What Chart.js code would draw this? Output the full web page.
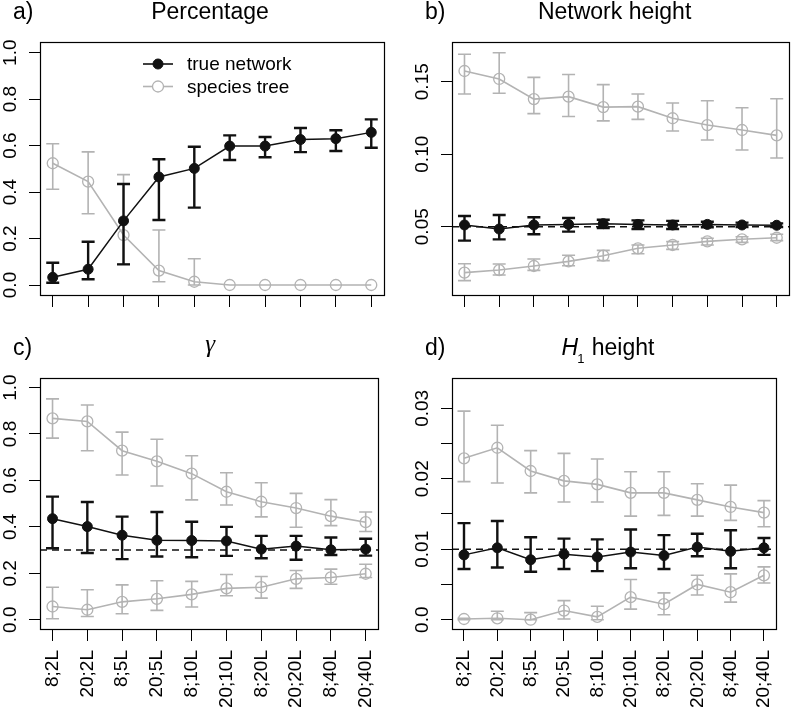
<!DOCTYPE html>
<html><head><meta charset="utf-8">
<script src="https://cdn.jsdelivr.net/npm/chart.js@4.4.1/dist/chart.umd.min.js"></script>
<style>
html,body{margin:0;padding:0;background:#fff;}
#wrap{position:relative;width:796px;height:710px;overflow:hidden;background:#fff;}
canvas{position:absolute;}
</style></head><body>
<div id="wrap">
<canvas id="cA" width="398" height="336" style="left:0;top:0;width:398px;height:336px"></canvas>
<canvas id="cB" width="398" height="336" style="left:398px;top:0;width:398px;height:336px"></canvas>
<canvas id="cC" width="398" height="374" style="left:0;top:336px;width:398px;height:374px"></canvas>
<canvas id="cD" width="398" height="374" style="left:398px;top:336px;width:398px;height:374px"></canvas>
</div>
<script>
// ---------- data ----------
const categories = ['8;2L','20;2L','8;5L','20;5L','8;10L','20;10L','8;20L','20;20L','8;40L','20;40L'];
const seriesNames = ['true network', 'species tree'];

// a) Percentage
const pctNet     = [0.033,0.068,0.276,0.465,0.502,0.598,0.598,0.626,0.630,0.657];
const pctNetLo   = [0.010,0.025,0.089,0.280,0.333,0.538,0.550,0.572,0.577,0.591];
const pctNetHi   = [0.096,0.186,0.435,0.541,0.595,0.644,0.637,0.676,0.666,0.713];
const pctTree    = [0.524,0.445,0.215,0.062,0.014,0,0,0,0,0];
const pctTreeLo  = [0.412,0.307,0.090,0.014,0.000,0,0,0,0,0];
const pctTreeHi  = [0.608,0.573,0.475,0.237,0.113,0,0,0,0,0];
const pctTicks   = [0,0.2,0.4,0.6,0.8,1.0];
const pctLabels  = ['0.0','0.2','0.4','0.6','0.8','1.0'];

// b) Network height
const nhTreeUp   = [0.1574,0.1519,0.1380,0.1397,0.1325,0.1328,0.1248,0.1201,0.1167,0.1130];
const nhTreeUpLo = [0.1415,0.1420,0.1280,0.1260,0.1230,0.1240,0.1160,0.1098,0.1029,0.0974];
const nhTreeUpHi = [0.1690,0.1700,0.1530,0.1550,0.1480,0.1415,0.1353,0.1369,0.1320,0.1383];
const nhNet      = [0.0512,0.0484,0.0512,0.0516,0.0521,0.0516,0.0512,0.0516,0.0512,0.0510];
const nhNetLo    = [0.0404,0.0413,0.0448,0.0466,0.0491,0.0484,0.0484,0.0496,0.0498,0.0498];
const nhNetHi    = [0.0574,0.0581,0.0565,0.0560,0.0548,0.0544,0.0540,0.0534,0.0528,0.0523];
const nhTreeDn   = [0.0183,0.0201,0.0229,0.0261,0.0300,0.0351,0.0374,0.0399,0.0413,0.0424];
const nhTreeDnLo = [0.0128,0.0167,0.0199,0.0231,0.0266,0.0314,0.0344,0.0374,0.0392,0.0404];
const nhTreeDnHi = [0.0245,0.0243,0.0277,0.0303,0.0337,0.0374,0.0397,0.0420,0.0431,0.0448];
const nhTicks    = [0.05,0.10,0.15];
const nhLabels   = ['0.05','0.10','0.15'];
const nhRef      = 0.05;

// c) gamma
const gTreeUp    = [0.867,0.854,0.728,0.682,0.629,0.551,0.508,0.481,0.446,0.420];
const gTreeUpLo  = [0.782,0.728,0.623,0.576,0.516,0.494,0.443,0.398,0.405,0.380];
const gTreeUpHi  = [0.951,0.925,0.808,0.777,0.706,0.633,0.590,0.544,0.517,0.464];
const gNet       = [0.435,0.401,0.364,0.342,0.341,0.339,0.304,0.317,0.301,0.304];
const gNetLo     = [0.308,0.287,0.261,0.272,0.269,0.275,0.265,0.258,0.279,0.276];
const gNetHi     = [0.530,0.507,0.444,0.464,0.422,0.400,0.361,0.361,0.354,0.349];
const gTreeDn    = [0.057,0.043,0.077,0.090,0.109,0.135,0.140,0.176,0.182,0.198];
const gTreeDnLo  = [0.004,0.014,0.026,0.040,0.055,0.103,0.093,0.135,0.153,0.182];
const gTreeDnHi  = [0.140,0.129,0.150,0.168,0.165,0.195,0.186,0.212,0.218,0.239];
const gTicks     = [0,0.2,0.4,0.6,0.8,1.0];
const gLabels    = ['0.0','0.2','0.4','0.6','0.8','1.0'];
const gRef       = 0.3;

// d) H1 height
const h1TreeUp   = [0.0229,0.0244,0.0211,0.0197,0.0192,0.0180,0.0180,0.0170,0.0160,0.0152];
const h1TreeUpLo = [0.0196,0.0194,0.0180,0.0167,0.0167,0.0147,0.0148,0.0147,0.0141,0.0132];
const h1TreeUpHi = [0.0296,0.0276,0.0240,0.0236,0.0228,0.0210,0.0210,0.0193,0.0191,0.0169];
const h1Net      = [0.0092,0.0102,0.0085,0.0093,0.0089,0.0096,0.0091,0.0103,0.0097,0.0102];
const h1NetLo    = [0.0072,0.0074,0.0068,0.0072,0.0069,0.0073,0.0072,0.0090,0.0073,0.0092];
const h1NetHi    = [0.0137,0.0140,0.0117,0.0115,0.0114,0.0128,0.0120,0.0122,0.0127,0.0116];
const h1TreeDn   = [0.0001,0.0002,0.0000,0.0013,0.0004,0.0032,0.0022,0.0050,0.0039,0.0063];
const h1TreeDnLo = [0.0000,0.0000,0.0000,0.0001,0.0000,0.0015,0.0007,0.0035,0.0025,0.0052];
const h1TreeDnHi = [0.0002,0.0012,0.0010,0.0027,0.0019,0.0057,0.0038,0.0063,0.0065,0.0075];
const h1Ticks    = [0,0.005,0.01,0.015,0.02,0.025,0.03];
const h1Labels   = ['0.0','','0.01','','0.02','','0.03'];
const h1Ref      = 0.01;

// ---------- styling ----------
const SANS = '"Liberation Sans", Arial, Helvetica, sans-serif';
const BLACK = '#111111';
const GRAY = '#b3b3b3';
Chart.defaults.font.family = SANS;
Chart.defaults.color = '#000';

function pts(arr){ return arr.map((v,i)=>({x:i+1, y:v})); }
function netDs(vals, lo, hi){
  return {label: seriesNames[0], data: pts(vals), errLo: lo, errHi: hi, errWidth: 2.4,
    borderColor: BLACK, backgroundColor: BLACK, borderWidth: 1.5,
    pointRadius: 5, pointBackgroundColor: BLACK, pointBorderColor: BLACK, pointBorderWidth: 1,
    tension: 0, fill: false};
}
function treeDs(vals, lo, hi){
  return {label: seriesNames[1], data: pts(vals), errLo: lo, errHi: hi, errWidth: 1.6,
    borderColor: GRAY, backgroundColor: 'rgba(0,0,0,0)', borderWidth: 1.6,
    pointRadius: 5.5, pointBackgroundColor: 'rgba(0,0,0,0)', pointBorderColor: GRAY, pointBorderWidth: 1.3,
    tension: 0, fill: false};
}

const SPECS = {};

const panelPlugin = {
  id: 'panel',
  beforeDatasetsDraw(chart){
    const sp = SPECS[chart.canvas.id], ctx = chart.ctx, ca = chart.chartArea;
    if (!sp) return;
    if (sp.ref !== undefined) {
      const y = chart.scales.y.getPixelForValue(sp.ref);
      ctx.save();
      ctx.strokeStyle = BLACK; ctx.lineWidth = 1.5; ctx.setLineDash([7,5]);
      ctx.beginPath(); ctx.moveTo(ca.left, y); ctx.lineTo(ca.right, y); ctx.stroke();
      ctx.restore();
    }
  },
  beforeDatasetDraw(chart, args){
    const ds = chart.data.datasets[args.index];
    if (!ds.errLo) return;
    const xs = chart.scales.x, ys = chart.scales.y, ctx = chart.ctx;
    const cap = 6.5;
    ctx.save();
    ctx.strokeStyle = ds.borderColor; ctx.lineWidth = ds.errWidth; ctx.lineCap = 'butt';
    ds.data.forEach((p, i) => {
      const x = xs.getPixelForValue(p.x);
      const y1 = ys.getPixelForValue(ds.errLo[i]);
      const y2 = ys.getPixelForValue(ds.errHi[i]);
      if (Math.abs(y1 - y2) < 0.5) return;
      ctx.beginPath();
      ctx.moveTo(x, y1); ctx.lineTo(x, y2);
      ctx.moveTo(x - cap, y1); ctx.lineTo(x + cap, y1);
      ctx.moveTo(x - cap, y2); ctx.lineTo(x + cap, y2);
      ctx.stroke();
    });
    ctx.restore();
  },
  afterDraw(chart){
    const sp = SPECS[chart.canvas.id], ctx = chart.ctx, ca = chart.chartArea;
    if (!sp) return;
    ctx.save();
    // box
    ctx.strokeStyle = '#000'; ctx.lineWidth = 1.2; ctx.setLineDash([]);
    ctx.strokeRect(Math.round(ca.left)+0.5, Math.round(ca.top)+0.5,
                   Math.round(ca.right-ca.left), Math.round(ca.bottom-ca.top));
    // y tick labels (rotated, as R las=0)
    ctx.fillStyle = '#000';
    ctx.font = '19px ' + SANS;
    ctx.textAlign = 'center'; ctx.textBaseline = 'alphabetic';
    sp.yTicks.forEach((v, i) => {
      const lab = sp.yLabels[i];
      if (!lab) return;
      const y = chart.scales.y.getPixelForValue(v);
      ctx.save();
      ctx.translate(ca.left - 24, y);
      ctx.rotate(-Math.PI/2);
      ctx.fillText(lab, 0, 0);
      ctx.restore();
    });
    // panel letter
    const base = ca.top - 23;
    ctx.font = '23px ' + SANS;
    ctx.textAlign = 'left';
    ctx.fillText(sp.letter, ca.left - 27, base);
    // title
    const cx = (ca.left + ca.right)/2 + sp.titleDx;
    sp.drawTitle(ctx, cx, base);
    // legend
    if (sp.legend) {
      const lx0 = 143, lx1 = 173, tx = 187;
      const rows = [{y: 64, ds: chart.data.datasets[0]}, {y: 86.5, ds: chart.data.datasets[1]}];
      rows.forEach(r => {
        ctx.strokeStyle = r.ds.borderColor; ctx.lineWidth = 1.6;
        ctx.beginPath(); ctx.moveTo(lx0, r.y); ctx.lineTo(lx1, r.y); ctx.stroke();
        ctx.beginPath(); ctx.arc((lx0+lx1)/2, r.y, r.ds.pointRadius, 0, Math.PI*2);
        ctx.fillStyle = (r.ds.pointBackgroundColor !== 'rgba(0,0,0,0)') ? r.ds.pointBackgroundColor : '#fff';
        ctx.fill();
        ctx.strokeStyle = r.ds.pointBorderColor; ctx.lineWidth = r.ds.pointBorderWidth; ctx.stroke();
        ctx.fillStyle = '#000'; ctx.font = '19px ' + SANS; ctx.textAlign = 'left'; ctx.textBaseline = 'middle';
        ctx.fillText(r.ds.label, tx, r.y + 1);
      });
    }
    ctx.restore();
  }
};

function plainTitle(text){
  return (ctx, cx, base) => {
    ctx.font = '23px ' + SANS; ctx.textAlign = 'center'; ctx.textBaseline = 'alphabetic';
    ctx.fillText(text, cx, base);
  };
}
function gammaTitle(ctx, cx, base){
  ctx.font = 'italic 25px "Liberation Serif", "DejaVu Serif", serif';
  ctx.textAlign = 'center'; ctx.textBaseline = 'alphabetic';
  ctx.fillText('γ', cx, base - 3);
}
function h1Title(ctx, cx, base){
  const fH = 'italic 23px ' + SANS, fS = '13px ' + SANS, fR = '23px ' + SANS;
  ctx.textBaseline = 'alphabetic'; ctx.textAlign = 'left';
  ctx.font = fH; const wH = ctx.measureText('H').width;
  ctx.font = fS; const wS = ctx.measureText('1').width;
  ctx.font = fR; const wR = ctx.measureText(' height').width;
  let x = cx - (wH + wS + wR)/2;
  ctx.font = fH; ctx.fillText('H', x, base); x += wH;
  ctx.font = fS; ctx.fillText('1', x - 1, base + 8); x += wS;
  ctx.font = fR; ctx.fillText(' height', x, base);
}

function makePanel(id, sp){
  SPECS[id] = sp;
  return new Chart(document.getElementById(id), {
    type: 'line',
    data: { datasets: sp.datasets },
    options: {
      responsive: false, animation: false, events: [],
      devicePixelRatio: 1,
      layout: { padding: { top: sp.padTop, right: sp.padRight, bottom: 0, left: 0 } },
      plugins: { legend: {display: false}, tooltip: {enabled: false}, title: {display: false} },
      scales: {
        x: {
          type: 'linear', min: 0.64, max: 10.36,
          afterBuildTicks: s => { s.ticks = categories.map((c, i) => ({value: i + 1})); },
          afterFit: s => { s.height = sp.xAxisH; },
          border: { display: false },
          grid: { drawOnChartArea: false, drawTicks: true, tickLength: 12, color: '#000', lineWidth: 1 },
          ticks: {
            display: sp.xLabels, autoSkip: false, minRotation: 90, maxRotation: 90, padding: 9,
            color: '#000', font: { size: 19, family: SANS },
            callback: v => categories[Math.round(v) - 1]
          }
        },
        y: {
          type: 'linear', min: sp.yMin, max: sp.yMax,
          afterBuildTicks: s => { s.ticks = sp.yTicks.map(v => ({value: v})); },
          afterFit: s => { s.width = sp.yAxisW; },
          border: { display: false },
          grid: { drawOnChartArea: false, drawTicks: true, tickLength: 11, color: '#000', lineWidth: 1 },
          ticks: { display: false }
        }
      }
    },
    plugins: [panelPlugin]
  });
}

makePanel('cA', { letter: 'a)', drawTitle: plainTitle('Percentage'), titleDx: -2, legend: true,
  yMin: -0.043, yMax: 1.046, yTicks: pctTicks, yLabels: pctLabels,
  padTop: 42, padRight: 14, yAxisW: 40, xAxisH: 41, xLabels: false,
  datasets: [netDs(pctNet, pctNetLo, pctNetHi), treeDs(pctTree, pctTreeLo, pctTreeHi)] });
makePanel('cB', { letter: 'b)', drawTitle: plainTitle('Network height'), titleDx: -6, legend: false,
  yMin: 0.0029, yMax: 0.1774, yTicks: nhTicks, yLabels: nhLabels, ref: nhRef,
  padTop: 42, padRight: 1, yAxisW: 54, xAxisH: 41, xLabels: false,
  datasets: [netDs(nhNet, nhNetLo, nhNetHi), treeDs(nhTreeUp, nhTreeUpLo, nhTreeUpHi), treeDs(nhTreeDn, nhTreeDnLo, nhTreeDnHi)] });
makePanel('cC', { letter: 'c)', drawTitle: gammaTitle, titleDx: 1, legend: false,
  yMin: -0.040, yMax: 1.041, yTicks: gTicks, yLabels: gLabels, ref: gRef,
  padTop: 42, padRight: 14, yAxisW: 40, xAxisH: 81, xLabels: true,
  datasets: [netDs(gNet, gNetLo, gNetHi), treeDs(gTreeUp, gTreeUpLo, gTreeUpHi), treeDs(gTreeDn, gTreeDnLo, gTreeDnHi)] });
makePanel('cD', { letter: 'd)', drawTitle: h1Title, titleDx: -6, legend: false,
  yMin: -0.00132, yMax: 0.0343, yTicks: h1Ticks, yLabels: h1Labels, ref: h1Ref,
  padTop: 42, padRight: 1, yAxisW: 54, xAxisH: 81, xLabels: true,
  datasets: [netDs(h1Net, h1NetLo, h1NetHi), treeDs(h1TreeUp, h1TreeUpLo, h1TreeUpHi), treeDs(h1TreeDn, h1TreeDnLo, h1TreeDnHi)] });
</script>
</body></html>
